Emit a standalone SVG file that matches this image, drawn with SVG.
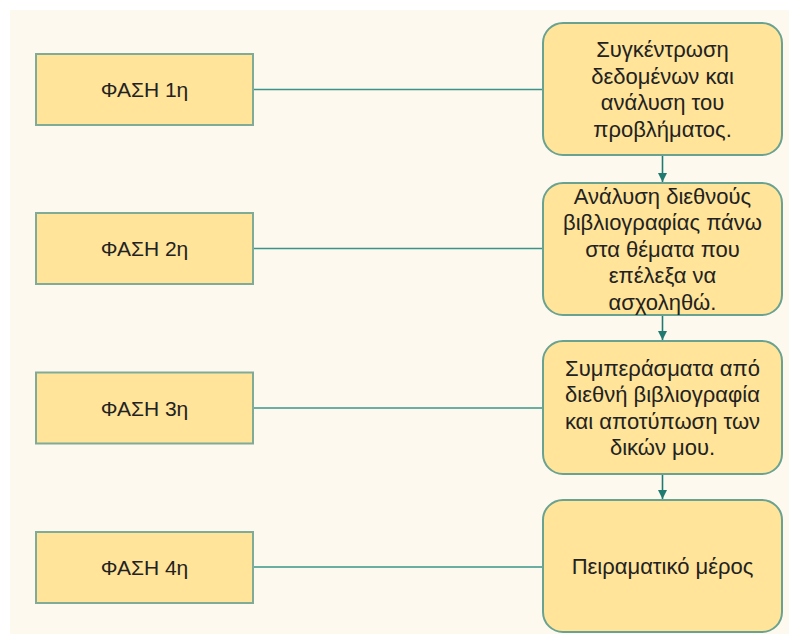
<svg xmlns="http://www.w3.org/2000/svg" width="789" height="634" viewBox="0 0 789 634">
<defs>
<style>
.bg{fill:#fef9ee}
.phase{fill:#ffe499;stroke:#7fab97;stroke-width:2}
.step{fill:#ffe499;stroke:#6aa291;stroke-width:2}
.t{font-family:"Liberation Sans",Arial,sans-serif;font-size:22px;fill:#222;text-anchor:middle}
.tp{font-size:21px}
.link{stroke:#3a9488;stroke-width:1.6;fill:none}
.arrow{stroke:#1f7a70;stroke-width:1.6;fill:none}
</style>
<marker id="ah" viewBox="0 0 10 10" refX="10" refY="5" markerWidth="9" markerHeight="9" markerUnits="userSpaceOnUse" orient="auto">
<path d="M0,0 L10,5 L0,10 z" fill="#1f7a70"/>
</marker>
</defs>
<rect x="0" y="0" width="789" height="634" fill="#ffffff"/>
<rect class="bg" x="10" y="10" width="779" height="624"/>
<g id="connectors">
<line class="link" x1="253" y1="89.5" x2="543" y2="89.5"/>
<line class="link" x1="253" y1="248.5" x2="543" y2="248.5"/>
<line class="link" x1="253" y1="408" x2="543" y2="408"/>
<line class="link" x1="253" y1="567" x2="543" y2="567"/>
<line class="arrow" x1="662.5" y1="156" x2="662.5" y2="182" marker-end="url(#ah)"/>
<line class="arrow" x1="662.5" y1="316" x2="662.5" y2="340" marker-end="url(#ah)"/>
<line class="arrow" x1="662.5" y1="475" x2="662.5" y2="499" marker-end="url(#ah)"/>
</g>
<g id="phase1"><rect class="phase" x="36" y="54" width="217" height="71"/><text class="t tp" x="144.5" y="97">ΦΑΣΗ 1η</text></g>
<g id="phase2"><rect class="phase" x="36" y="213" width="217" height="71"/><text class="t tp" x="144.5" y="256">ΦΑΣΗ 2η</text></g>
<g id="phase3"><rect class="phase" x="36" y="372.5" width="217" height="71"/><text class="t tp" x="144.5" y="415.5">ΦΑΣΗ 3η</text></g>
<g id="phase4"><rect class="phase" x="36" y="532" width="217" height="71"/><text class="t tp" x="144.5" y="575">ΦΑΣΗ 4η</text></g>
<g id="step1"><rect class="step" x="543" y="23" width="239" height="132" rx="20"/>
<text class="t" x="662.5" y="57">Συγκέντρωση</text>
<text class="t" x="662.5" y="83.5">δεδομένων και</text>
<text class="t" x="662.5" y="110">ανάλυση του</text>
<text class="t" x="662.5" y="136.5">προβλήματος.</text></g>
<g id="step2"><rect class="step" x="543" y="183" width="239" height="132" rx="20"/>
<text class="t" x="662.5" y="203.7">Ανάλυση διεθνούς</text>
<text class="t" x="662.5" y="230.2">βιβλιογραφίας πάνω</text>
<text class="t" x="662.5" y="256.7">στα θέματα που</text>
<text class="t" x="662.5" y="283.2">επέλεξα να</text>
<text class="t" x="662.5" y="309.7">ασχοληθώ.</text></g>
<g id="step3"><rect class="step" x="543" y="341" width="239" height="133" rx="20"/>
<text class="t" x="662.5" y="375.5">Συμπεράσματα από</text>
<text class="t" x="662.5" y="402">διεθνή βιβλιογραφία</text>
<text class="t" x="662.5" y="428.5">και αποτύπωση των</text>
<text class="t" x="662.5" y="455">δικών μου.</text></g>
<g id="step4"><rect class="step" x="543" y="500" width="239" height="132" rx="20"/>
<text class="t" x="662.5" y="573.7">Πειραματικό μέρος</text></g>
</svg>
